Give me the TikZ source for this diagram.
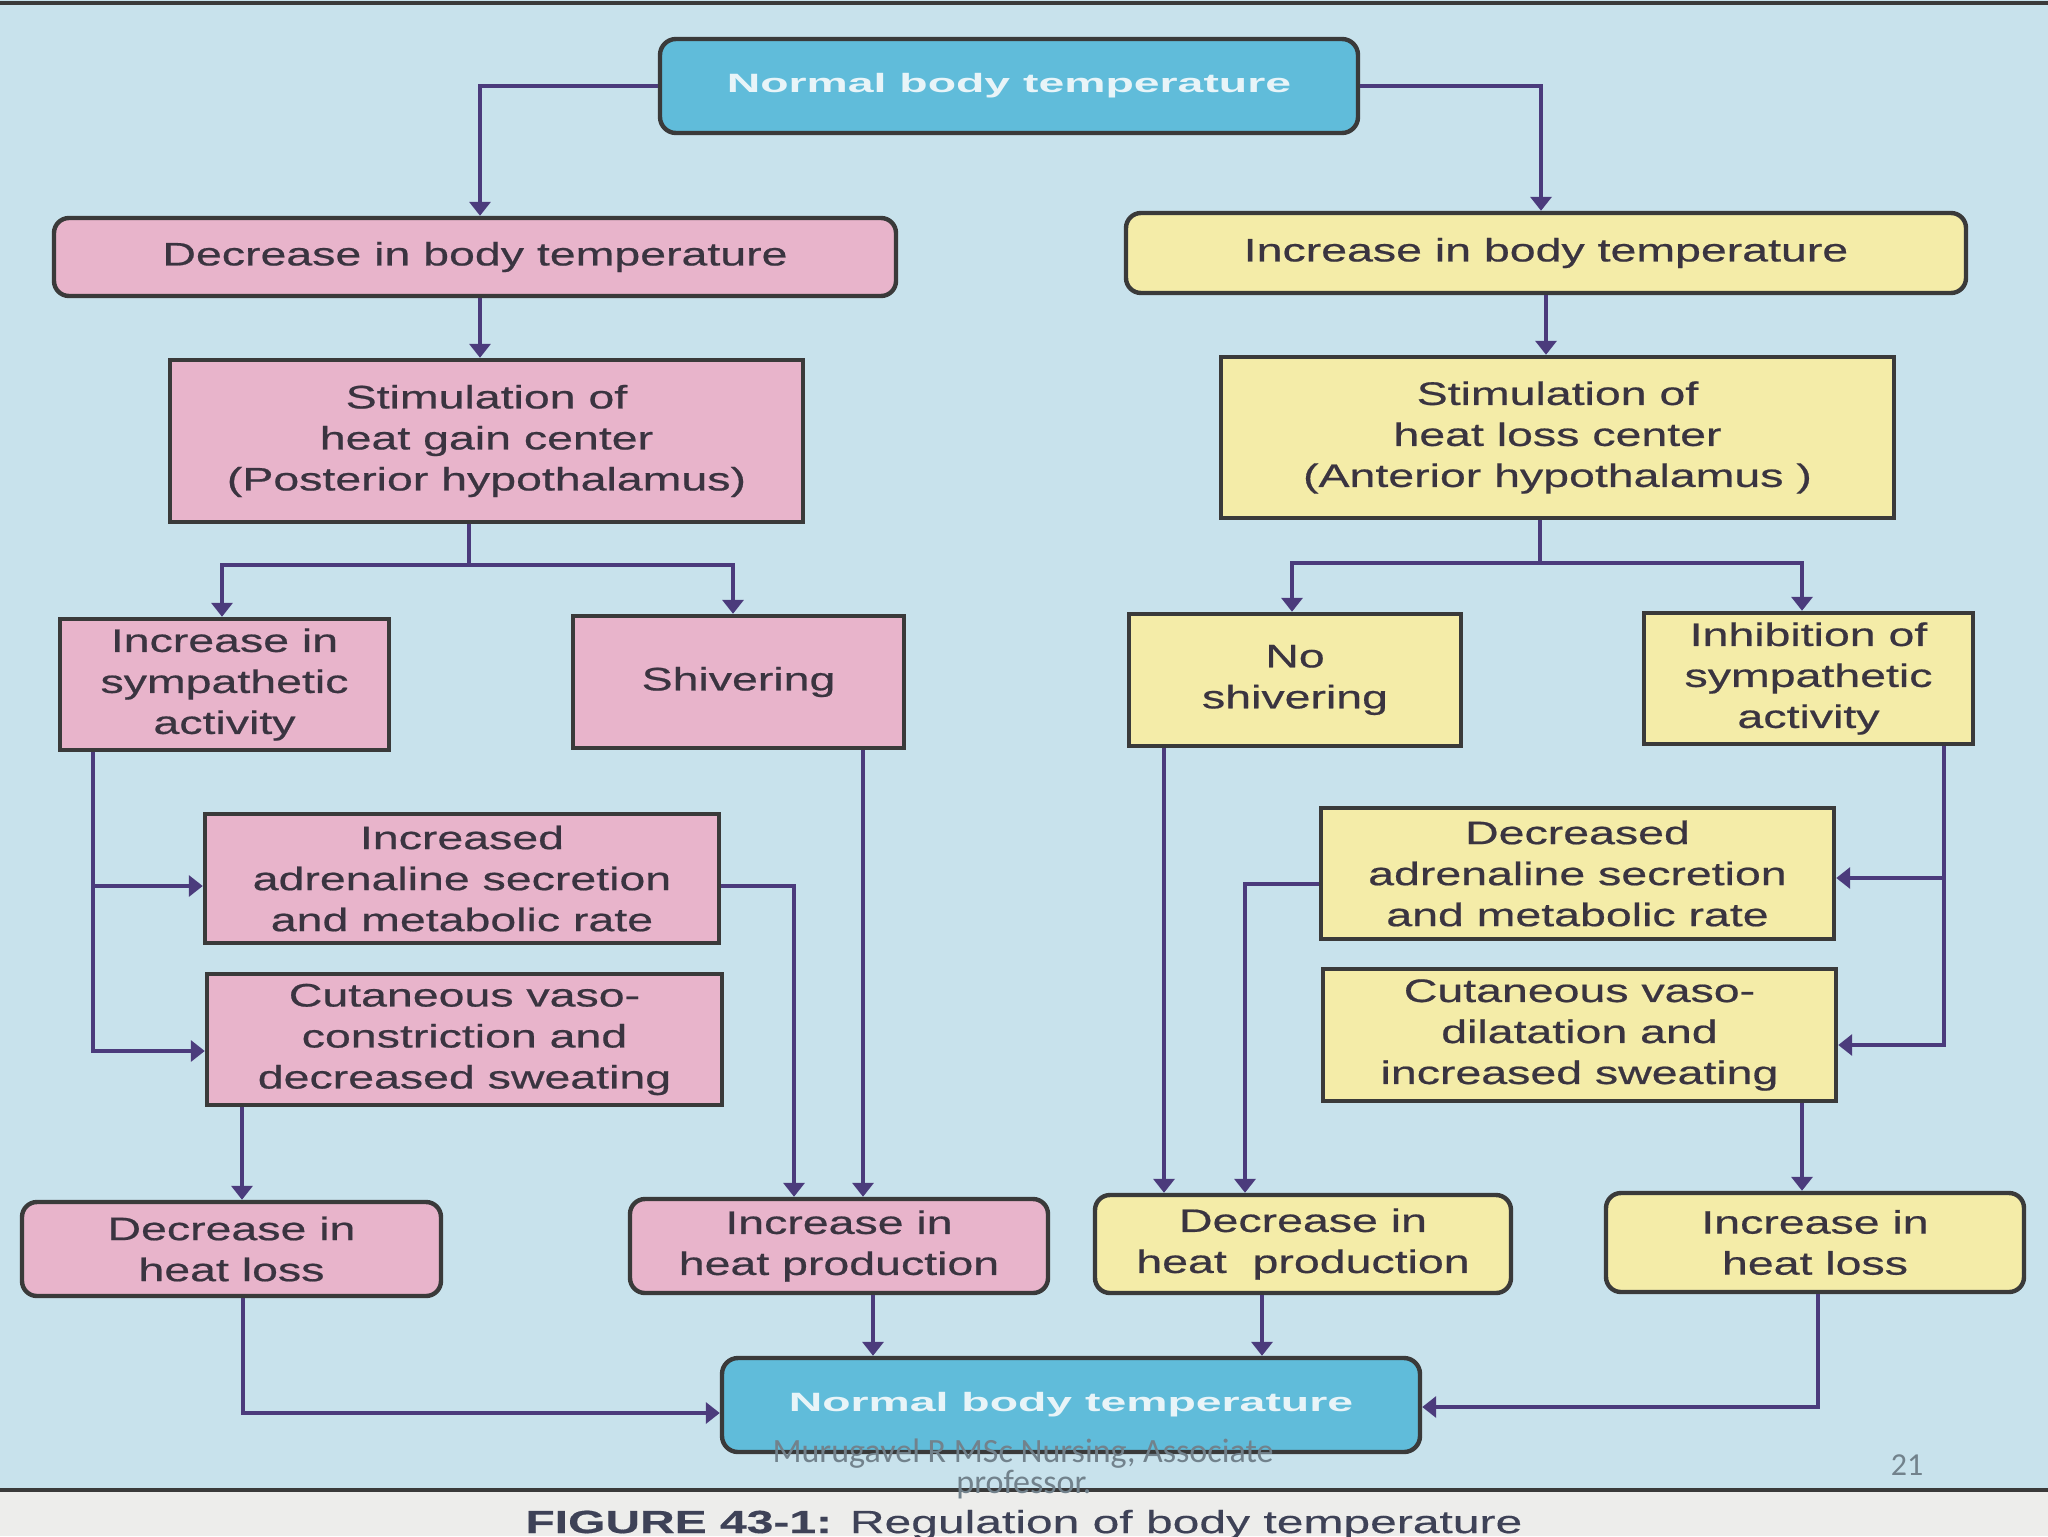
\documentclass[tikz,border=0pt]{standalone}
\usepackage{fontspec}
\setmainfont{Liberation Sans}
\newfontfamily\boxfont[FakeStretch=1.43,FakeBold=0.6]{Liberation Sans}
\newfontfamily\titlefont[FakeStretch=1.75]{Liberation Sans}
\newfontfamily\capfont[FakeStretch=1.5,FakeBold=0.4]{Liberation Sans}
\newfontfamily\footfont{Carlito}
\usetikzlibrary{arrows.meta}
\definecolor{bgblue}{HTML}{C8E2EC}
\definecolor{stripgrey}{HTML}{EDEDEB}
\definecolor{pinkfill}{HTML}{E8B4CB}
\definecolor{yellowfill}{HTML}{F4ECA8}
\definecolor{titlefill}{HTML}{60BCDA}
\definecolor{titletext}{HTML}{E8F4F8}
\definecolor{boxline}{HTML}{3A3A3A}
\definecolor{boxtext}{HTML}{3A3440}
\definecolor{connline}{HTML}{4B3B7C}
\definecolor{captext}{HTML}{3E4257}
\definecolor{foottext}{HTML}{72828C}
\begin{document}
\begin{tikzpicture}[x=0.5pt,y=-0.5pt,
  box/.style={draw=boxline, line width=2.2pt, inner sep=0pt, align=center, text=boxtext,
    font=\boxfont\fontsize{16.25pt}{20.5pt}\selectfont},
  pinkbox/.style={box, fill=pinkfill},
  yellowbox/.style={box, fill=yellowfill},
  rbox/.style={rounded corners=7.5pt},
  titlebox/.style={box, fill=titlefill, rounded corners=8pt, text=titletext,
    font=\titlefont\bfseries\fontsize{13.25pt}{16pt}\selectfont},
  conn/.style={draw=connline, line width=1.8pt},
  arr/.style={conn, -{Triangle[length=7pt,width=10.5pt]}},
  foot/.style={inner sep=0pt, text=foottext, font=\footfont\fontsize{17pt}{20pt}\selectfont},
]
\useasboundingbox (0,0) rectangle (2048,1536);
% background
\fill[bgblue] (0,0) rectangle (2048,1490);
\fill[stripgrey] (0,1490) rectangle (2048,1536);
\draw[boxline, line width=1.6pt] (0,3) -- (2048,3);
\draw[boxline, line width=2pt] (0,1490) -- (2048,1490);

% nodes
\node[titlebox, minimum width=349pt, minimum height=47pt] (ntop) at (1009,86) {Normal body temperature};
\node[pinkbox, rbox, minimum width=421pt, minimum height=39pt] (dec) at (475,257) {Decrease in body temperature};
\node[yellowbox, rbox, minimum width=420pt, minimum height=40pt] (inc) at (1546,253) {Increase in body temperature};
\node[pinkbox, minimum width=316.5pt, minimum height=81pt] (sgain) at (486.5,441) {Stimulation of\\heat gain center\\(Posterior hypothalamus)};
\node[yellowbox, minimum width=336.5pt, minimum height=80.5pt] (sloss) at (1557.5,437.5) {Stimulation of\\heat loss center\\(Anterior hypothalamus )};
\node[pinkbox, minimum width=164.5pt, minimum height=65.5pt] (symp) at (224.5,684.5) {Increase in\\sympathetic\\activity};
\node[pinkbox, minimum width=165.5pt, minimum height=66pt] (shiv) at (738.5,682) {Shivering};
\node[pinkbox, minimum width=257pt, minimum height=64.5pt] (adr) at (462,878.5) {Increased\\adrenaline secretion\\and metabolic rate};
\node[pinkbox, minimum width=257.5pt, minimum height=65.5pt] (vcon) at (464.5,1039.5) {Cutaneous vaso-\\constriction and\\decreased sweating};
\node[pinkbox, rbox, minimum width=209.5pt, minimum height=47pt] (dhl) at (231.5,1249) {Decrease in\\heat loss};
\node[pinkbox, rbox, minimum width=209pt, minimum height=47pt] (ihp) at (839,1246) {Increase in\\heat production};
\node[yellowbox, minimum width=166pt, minimum height=66pt] (nosh) at (1295,680) {No\\shivering};
\node[yellowbox, minimum width=164.5pt, minimum height=65.5pt] (inh) at (1808.5,678.5) {Inhibition of\\sympathetic\\activity};
\node[yellowbox, minimum width=256.5pt, minimum height=65.5pt] (dadr) at (1577.5,873.5) {Decreased\\adrenaline secretion\\and metabolic rate};
\node[yellowbox, minimum width=256.5pt, minimum height=66pt] (vdil) at (1579.5,1035) {Cutaneous vaso-\\dilatation and\\increased sweating};
\node[yellowbox, rbox, minimum width=208pt, minimum height=49pt] (dhp) at (1303,1244) {Decrease in\\heat\ \ production};
\node[yellowbox, rbox, minimum width=209pt, minimum height=49.5pt] (ihl) at (1815,1242.5) {Increase in\\heat loss};
\node[titlebox, minimum width=349pt, minimum height=47pt] (nbot) at (1071,1405) {Normal body temperature};

% junctions
\coordinate (gj) at (469,565);
\coordinate (lj) at (1540,563);

% connectors
\draw[arr] (ntop.west) -| ([xshift=2.5pt]dec.north);
\draw[arr] (ntop.east) -| ([xshift=-2.5pt]inc.north);
\draw[arr] ([xshift=2.5pt]dec.south) -- ([xshift=2.5pt]dec.south |- sgain.north);
\draw[arr] (inc.south) -- (inc.south |- sloss.north);
\draw[conn] (sgain.south -| gj) -- (gj);
\draw[arr] (gj) -| (symp.north -| 222,0);
\draw[arr] (gj) -| (shiv.north -| 733,0);
\draw[conn] (sloss.south -| lj) -- (lj);
\draw[arr] (lj) -| (nosh.north -| 1292,0);
\draw[arr] (lj) -| (inh.north -| 1802,0);
\draw[arr] (symp.south -| 93,0) |- (adr.west |- 0,886);
\draw[arr] (symp.south -| 93,0) |- (vcon.west |- 0,1051);
\draw[arr] (adr.east |- 0,886) -| (ihp.north -| 794,0);
\draw[arr] (shiv.south -| 863,0) -- (ihp.north -| 863,0);
\draw[arr] (vcon.south -| 242,0) -- (dhl.north -| 242,0);
\draw[arr] (dhl.south -| 243,0) |- (nbot.west |- 0,1413);
\draw[arr] (ihp.south -| 873,0) -- (nbot.north -| 873,0);
\draw[arr] (nosh.south -| 1164,0) -- (dhp.north -| 1164,0);
\draw[arr] (dadr.west |- 0,884) -| (dhp.north -| 1245,0);
\draw[arr] (inh.south -| 1944,0) |- (dadr.east |- 0,878);
\draw[arr] (inh.south -| 1944,0) |- (vdil.east |- 0,1045);
\draw[arr] (vdil.south -| 1802,0) -- (ihl.north -| 1802,0);
\draw[arr] (dhp.south -| 1262,0) -- (nbot.north -| 1262,0);
\draw[arr] (ihl.south -| 1818,0) |- (nbot.east |- 0,1407);

% footer and caption
\node[foot, anchor=base] (foot1) at (1023,1462) {Murugavel R MSc Nursing, Associate};
\node[foot, anchor=base] (foot2) at (1024,1493) {professor.};
\node[foot, anchor=base, font=\footfont\fontsize{16pt}{19pt}\selectfont] (pageno) at (1907,1475) {21};
\node[inner sep=0pt, anchor=base west, text=captext, font=\capfont\fontsize{16pt}{19pt}\selectfont] (caption) at (525,1533) {{\bfseries FIGURE 43-1:} Regulation of body temperature};
\end{tikzpicture}
\end{document}
